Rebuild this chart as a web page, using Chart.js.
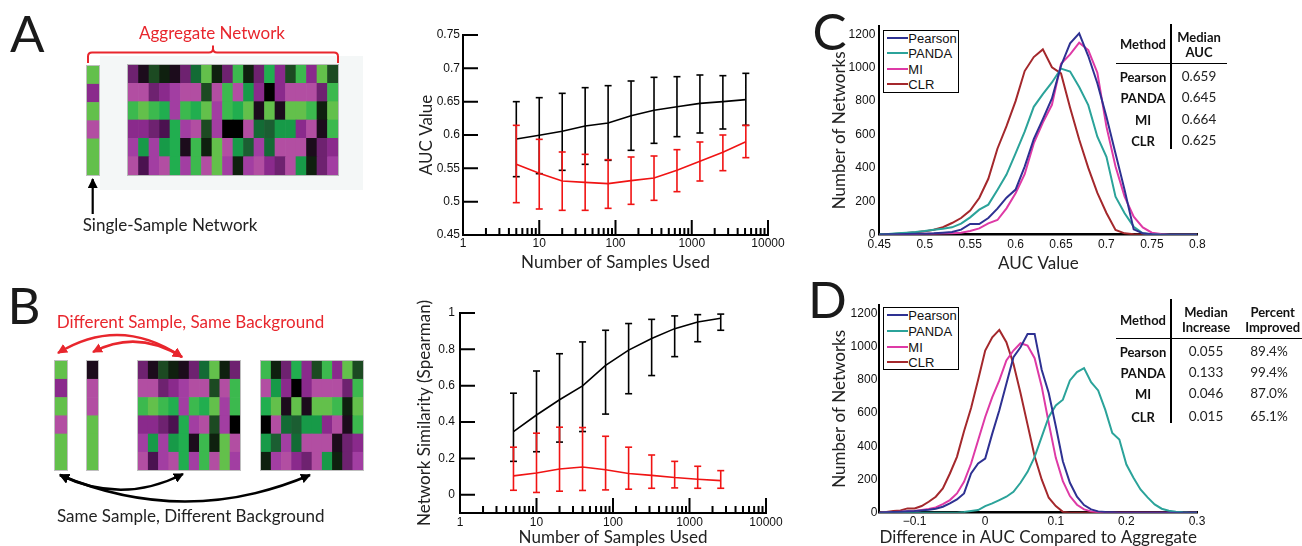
<!DOCTYPE html>
<html>
<head>
<meta charset="utf-8">
<title>Single-sample networks</title>
<script src="https://cdn.jsdelivr.net/npm/chart.js@4.4.1/dist/chart.umd.min.js"></script>
<style>
  html, body { margin: 0; padding: 0; background: #fff; }
  #page { position: relative; width: 1302px; height: 546px; overflow: hidden; font-family: Lato, sans-serif; color: #1e1e1e; }
  .box { position: absolute; }
  .box canvas { display: block; }
  .t { position: absolute; white-space: nowrap; line-height: 1; }
  .c { transform: translate(-50%, -50%); }
  .l { transform: translate(0, -50%); }
  .cell { outline: 1px solid rgba(0, 0, 0, 0.25); }
  .rule { position: absolute; background: #000; }
  .letter { font-size: 51px; color: #1a1a1a; }
  .red { color: #e8262d; font-size: 17px; }
  .note { font-size: 17px; color: #222; }
  .tb { font-weight: 700; font-size: 13px; color: #111; }
  .tv { font-size: 13.5px; color: #222; }
  .lg { font-family: 'Liberation Sans', Arial, sans-serif; font-size: 13px; color: #111; }
</style>
</head>
<body>
<div id="page">
  <!-- panel A illustration -->
  <div class="box" style="left:100px;top:56px;width:263px;height:134px;background:#f4f7f7"></div>
  <div class="box cell" style="left:87.3px;top:65.7px;width:11.7px;height:109.3px"><canvas id="hmSingleA"></canvas></div>
  <div class="box cell" style="left:128.3px;top:65.3px;width:210px;height:110px"><canvas id="hmAggregate"></canvas></div>

  <!-- panel B illustration -->
  <div class="box cell" style="left:55px;top:360.5px;width:11.7px;height:109.5px"><canvas id="hmSingleB1"></canvas></div>
  <div class="box cell" style="left:86.7px;top:360.5px;width:11.3px;height:109.5px"><canvas id="hmSingleB2"></canvas></div>
  <div class="box cell" style="left:137.7px;top:360.5px;width:102.3px;height:109.5px"><canvas id="hmHalf1"></canvas></div>
  <div class="box cell" style="left:260.7px;top:360.5px;width:102px;height:109.5px"><canvas id="hmHalf2"></canvas></div>

  <svg class="box" style="left:0;top:0" width="400" height="546" viewBox="0 0 400 546">
    <defs>
      <marker id="headRed" viewBox="0 0 10 10" refX="9" refY="5" markerWidth="10" markerHeight="10" markerUnits="userSpaceOnUse" orient="auto-start-reverse">
        <path d="M0,0 L10,5 L0,10 z" fill="#e8262d"/>
      </marker>
      <marker id="headBlack" viewBox="0 0 10 10" refX="9" refY="5" markerWidth="10" markerHeight="10" markerUnits="userSpaceOnUse" orient="auto-start-reverse">
        <path d="M0,0 L10,5 L0,10 z" fill="#000"/>
      </marker>
    </defs>
    <path d="M88,63 L88,56.5 Q88,52.5 92,52.5 L209,52.5 Q213,52.5 213,48.5 L213,45.5 M213,48.5 Q213,52.5 217,52.5 L334,52.5 Q338,52.5 338,56.5 L338,63" stroke="#e8262d" stroke-width="2" fill="none"/>
    <path d="M92.7,214 L92.7,179" stroke="#000" stroke-width="2.2" fill="none" marker-end="url(#headBlack)"/>
    <path d="M58,353 Q120,315 182,357" stroke="#e8262d" stroke-width="2.5" fill="none" marker-start="url(#headRed)" marker-end="url(#headRed)"/>
    <path d="M93,352 Q137,329 182,357" stroke="#e8262d" stroke-width="2.5" fill="none" marker-start="url(#headRed)" marker-end="url(#headRed)"/>
    <path d="M60,475 Q122,505 183,474" stroke="#000" stroke-width="2.5" fill="none" marker-start="url(#headBlack)" marker-end="url(#headBlack)"/>
    <path d="M60,475 Q185,528 310,475" stroke="#000" stroke-width="2.5" fill="none" marker-start="url(#headBlack)" marker-end="url(#headBlack)"/>
  </svg>

  <div class="t letter l" style="left:10px;top:31.5px">A</div>
  <div class="t letter l" style="left:7.5px;top:303.5px">B</div>
  <div class="t letter l" style="left:812.5px;top:30px">C</div>
  <div class="t letter l" style="left:808px;top:297.5px">D</div>

  <div class="t red c" style="left:212px;top:32px">Aggregate Network</div>
  <div class="t note l" style="left:82.7px;top:223.8px">Single-Sample Network</div>
  <div class="t red l" style="left:56.7px;top:320.5px">Different Sample, Same Background</div>
  <div class="t note l" style="left:57px;top:515px">Same Sample, Different Background</div>

  <!-- charts -->
  <div class="box" style="left:395px;top:22px;width:395px;height:253px"><canvas id="aucChart"></canvas></div>
  <div class="box" style="left:393px;top:300px;width:397px;height:246px"><canvas id="simChart"></canvas></div>
  <div class="box" style="left:805px;top:15px;width:410px;height:260px"><canvas id="aucDistChart"></canvas></div>
  <div class="box" style="left:805px;top:295px;width:410px;height:251px"><canvas id="diffDistChart"></canvas></div>
</div>

<script>
  // ---- heatmap cells (palette index per cell, top row first) ----
  const cellPalette = [
    "#000000", "#1c0c1c", "#6e2270", "#8a2a8c", "#a23ea2", "#b24ea2", "#0f200f",
    "#1c4a22", "#136b35", "#179a48", "#21ae4f", "#3cb94e", "#63c04b", "#4b1250", "#1b5e32"
  ];
  const heatAggregate = [
    [2, 1, 7, 6, 1, 2, 8, 12, 6, 2, 11, 6, 2, 10, 3, 7, 11, 3, 12, 7],
    [5, 5, 2, 3, 4, 5, 5, 7, 5, 11, 5, 9, 3, 0, 3, 5, 5, 5, 2, 11],
    [11, 12, 11, 10, 4, 11, 10, 12, 4, 11, 10, 12, 1, 12, 1, 12, 12, 11, 6, 12],
    [3, 3, 2, 13, 10, 4, 5, 7, 4, 0, 0, 5, 8, 14, 9, 9, 3, 5, 1, 11],
    [4, 9, 4, 9, 10, 1, 11, 6, 12, 5, 9, 14, 4, 8, 5, 5, 5, 1, 2, 3],
    [5, 13, 4, 5, 10, 4, 11, 5, 12, 4, 6, 4, 5, 3, 2, 5, 9, 6, 2, 4]
  ];
  const heatSingle = [12, 3, 12, 5, 12, 12];
  const heatOtherSingle = [1, 5, 5, 12, 12, 12];

  // ---- panel A: AUC vs number of samples ----
  const samplesA = [5, 10, 20, 40, 80, 160, 320, 640, 1280, 2560, 5120];
  const aucAggMean = [0.594, 0.5995, 0.6055, 0.6135, 0.618, 0.629, 0.637, 0.6425, 0.6475, 0.65, 0.653];
  const aucAggHigh = [0.65, 0.656, 0.6625, 0.671, 0.674, 0.681, 0.6865, 0.6875, 0.69, 0.689, 0.6925];
  const aucAggLow = [0.5375, 0.542, 0.547, 0.556, 0.562, 0.577, 0.5875, 0.5975, 0.603, 0.609, 0.6145];
  const aucSingleMean = [0.556, 0.5425, 0.531, 0.529, 0.527, 0.5315, 0.5355, 0.547, 0.5605, 0.574, 0.59];
  const aucSingleHigh = [0.6145, 0.5935, 0.5745, 0.571, 0.563, 0.567, 0.5685, 0.578, 0.5895, 0.6, 0.6145];
  const aucSingleLow = [0.4985, 0.489, 0.487, 0.487, 0.49, 0.496, 0.502, 0.515, 0.531, 0.5465, 0.566];
  const aucTicks = [0.45, 0.5, 0.55, 0.6, 0.65, 0.7, 0.75];

  // ---- panel B: similarity vs number of samples ----
  const samplesB = [5, 10, 20, 40, 80, 160, 320, 640, 1280, 2560];
  const simSameMean = [0.348, 0.439, 0.523, 0.599, 0.712, 0.796, 0.86, 0.914, 0.951, 0.971];
  const simSameHigh = [0.559, 0.681, 0.776, 0.841, 0.905, 0.942, 0.965, 0.984, 0.991, 0.994];
  const simSameLow = [0.184, 0.237, 0.29, 0.348, 0.444, 0.556, 0.656, 0.76, 0.842, 0.905];
  const simDiffMean = [0.104, 0.12, 0.142, 0.153, 0.138, 0.117, 0.107, 0.095, 0.086, 0.078];
  const simDiffHigh = [0.262, 0.339, 0.372, 0.37, 0.322, 0.262, 0.219, 0.184, 0.157, 0.133];
  const simDiffLow = [0.025, 0.013, 0.02, 0.024, 0.027, 0.031, 0.036, 0.038, 0.036, 0.036];
  const simTicks = [0, 0.2, 0.4, 0.6, 0.8, 1];

  const sampleMajorTicks = [1, 10, 100, 1000, 10000];

  // ---- panel C: distribution of AUC ----
  const methods = ["Pearson", "PANDA", "MI", "CLR"];
  const methodColors = ["#2e3192", "#2ba39a", "#de3aa6", "#a4282c"];
  const aucBins = [0.45, 0.46, 0.47, 0.48, 0.49, 0.5, 0.51, 0.52, 0.53, 0.54, 0.55, 0.56, 0.57, 0.58,
    0.59, 0.6, 0.61, 0.62, 0.63, 0.64, 0.65, 0.66, 0.67, 0.68, 0.69, 0.7, 0.71, 0.72, 0.73, 0.74,
    0.75, 0.76, 0.77, 0.78, 0.79, 0.8];
  const aucPearson = [0, 2, 3, 4, 5, 6, 8, 12, 16, 30, 64, 64, 100, 156, 222, 270, 408, 572, 692, 816,
    1012, 1146, 1206, 1070, 907, 707, 487, 268, 32, 8, 2, 0, 0, 0, 0, 0];
  const aucPanda = [2, 4, 8, 12, 16, 22, 30, 36, 44, 66, 104, 150, 180, 268, 360, 487, 617, 766, 842, 912,
    995, 977, 885, 776, 587, 467, 228, 128, 48, 8, 2, 0, 0, 0, 0, 0];
  const aucMI = [0, 1, 2, 3, 4, 5, 6, 7, 8, 12, 22, 38, 68, 88, 158, 248, 362, 547, 672, 778,
    1024, 1080, 1150, 1106, 970, 647, 408, 228, 108, 44, 12, 4, 0, 0, 0, 0];
  const aucCLR = [0, 2, 6, 10, 14, 20, 30, 45, 70, 100, 145, 220, 335, 515, 650, 800, 980, 1064, 1110, 1003,
    966, 760, 570, 400, 250, 130, 28, 8, 2, 0, 0, 0, 0, 0, 0, 0];
  const aucBinTicks = [0.45, 0.5, 0.55, 0.6, 0.65, 0.7, 0.75, 0.8];
  const medianAUC = ["0.659", "0.645", "0.664", "0.625"];

  // ---- panel D: difference in AUC vs aggregate ----
  const diffBins = [-0.15, -0.14, -0.13, -0.12, -0.11, -0.1, -0.09, -0.08, -0.07, -0.06, -0.05, -0.04,
    -0.03, -0.02, -0.01, 0, 0.01, 0.02, 0.03, 0.04, 0.05, 0.06, 0.07, 0.08, 0.09, 0.1, 0.11, 0.12,
    0.13, 0.14, 0.15, 0.16, 0.17, 0.18, 0.19, 0.2, 0.21, 0.22, 0.23, 0.24, 0.25, 0.26, 0.27, 0.28, 0.29, 0.3];
  const diffPearson = [0, 2, 4, 6, 8, 10, 14, 18, 24, 36, 56, 80, 116, 236, 296, 326, 476, 616, 776, 936,
    996, 1076, 1076, 860, 720, 520, 310, 180, 96, 46, 20, 8, 4, 2, 0, 0, 0, 0, 0, 0, 0, 0, 0, 0, 0, 0];
  const diffPanda = [0, 0, 0, 0, 0, 0, 0, 0, 0, 0, 0, 0, 4, 10, 16, 40, 56, 76, 96, 126, 180, 246, 336,
    456, 576, 646, 680, 796, 846, 870, 786, 736, 620, 480, 440, 290, 210, 140, 92, 50, 24, 12, 6, 2, 0, 0];
  const diffMI = [0, 2, 4, 6, 8, 10, 16, 22, 32, 52, 76, 116, 186, 296, 436, 576, 696, 796, 916, 976,
    1020, 1006, 930, 760, 540, 330, 190, 100, 48, 20, 8, 3, 0, 0, 0, 0, 0, 0, 0, 0, 0, 0, 0, 0, 0, 0];
  const diffCLR = [0, 4, 10, 14, 26, 26, 40, 66, 96, 146, 236, 336, 490, 630, 800, 976, 1056, 1100, 1026, 896,
    720, 530, 340, 200, 90, 40, 5, 0, 0, 0, 0, 0, 0, 0, 0, 0, 0, 0, 0, 0, 0, 0, 0, 0, 0, 0];
  const diffTicks = [-0.1, 0, 0.1, 0.2, 0.3];
  const medianIncrease = ["0.055", "0.133", "0.046", "0.015"];
  const percentImproved = ["89.4%", "99.4%", "87.0%", "65.1%"];

  const countTicks = [0, 200, 400, 600, 800, 1000, 1200];

  Chart.defaults.font.family = "'Liberation Sans', Arial, sans-serif";
  Chart.defaults.font.size = 12;
  Chart.defaults.color = "#111";

  const RED = "#f01414";
  const titleFont = { family: "Lato", size: 17, lineHeight: 1 };

  // tick marks drawn inside the plot (MATLAB style)
  const inwardTicks = {
    id: "inwardTicks",
    afterDatasetsDraw(chart, args, opts) {
      const { ctx, chartArea: a, scales: { x, y } } = chart;
      ctx.save();
      ctx.strokeStyle = "#000";
      ctx.lineWidth = 2;
      ctx.beginPath();
      x.ticks.forEach(function (t) {
        const px = x.getPixelForValue(t.value);
        const len = opts.major.includes(t.value) ? 15 : 7;
        ctx.moveTo(px, a.bottom);
        ctx.lineTo(px, a.bottom - len);
      });
      y.ticks.forEach(function (t) {
        const py = y.getPixelForValue(t.value);
        ctx.moveTo(a.left, py);
        ctx.lineTo(a.left + 15, py);
      });
      ctx.stroke();
      ctx.restore();
    }
  };

  function drawHeatmap(id, rows) {
    const datasets = rows.slice().reverse().map(function (row) {
      return {
        data: row.map(function () { return 1; }),
        backgroundColor: row.map(function (k) { return cellPalette[k]; }),
        borderWidth: 0,
        barPercentage: 1,
        categoryPercentage: 1
      };
    });
    new Chart(document.getElementById(id), {
      type: "bar",
      data: { labels: rows[0].map(function (_, i) { return "c" + i; }), datasets: datasets },
      options: {
        responsive: true, maintainAspectRatio: false, animation: false, events: [],
        layout: { padding: 0 },
        plugins: { legend: { display: false }, tooltip: { enabled: false } },
        scales: {
          x: { display: false, stacked: true },
          y: { display: false, stacked: true, min: 0, max: rows.length }
        }
      }
    });
  }

  drawHeatmap("hmAggregate", heatAggregate);
  drawHeatmap("hmSingleA", heatSingle.map(function (k) { return [k]; }));
  drawHeatmap("hmSingleB1", heatSingle.map(function (k) { return [k]; }));
  drawHeatmap("hmSingleB2", heatOtherSingle.map(function (k) { return [k]; }));
  drawHeatmap("hmHalf1", heatAggregate.map(function (r) { return r.slice(0, 10); }));
  drawHeatmap("hmHalf2", heatAggregate.map(function (r) { return r.slice(10, 20); }));

  function points(xs, ys) {
    return xs.map(function (x, i) { return { x: x, y: ys[i] }; });
  }
  function errorBars(xs, lo, hi) {
    const pts = [];
    xs.forEach(function (x, i) {
      pts.push({ x: x, y: lo[i] }, { x: x, y: hi[i] }, { x: x, y: null });
    });
    return pts;
  }

  // log axis ticks 1..9, 10..90, ...
  const logTicks = [];
  sampleMajorTicks.forEach(function (d, i) {
    if (i === sampleMajorTicks.length - 1) { logTicks.push(d); return; }
    for (let k = 1; k <= 9; k++) logTicks.push(d * k);
  });

  function sampleChart(id, o) {
    function ds(data, color, isBar) {
      return {
        data: data, showLine: true, borderColor: color, borderWidth: 1.6, spanGaps: false,
        pointRadius: isBar ? 3.5 : 0, pointStyle: "line",
        pointBorderColor: color, pointBorderWidth: 1.6
      };
    }
    new Chart(document.getElementById(id), {
      type: "scatter",
      data: {
        datasets: [
          ds(errorBars(o.xs, o.redLow, o.redHigh), RED, true),
          ds(points(o.xs, o.redMean), RED, false),
          ds(errorBars(o.xs, o.blackLow, o.blackHigh), "#000", true),
          ds(points(o.xs, o.blackMean), "#000", false)
        ]
      },
      plugins: [inwardTicks],
      options: {
        responsive: true, maintainAspectRatio: false, animation: false, events: [],
        layout: { padding: { top: o.padTop, right: o.padRight, left: 0, bottom: 0 } },
        plugins: {
          legend: { display: false }, tooltip: { enabled: false },
          inwardTicks: { major: sampleMajorTicks }
        },
        scales: {
          x: {
            type: "logarithmic", min: 1, max: 10000,
            grid: { display: true, drawOnChartArea: false, drawTicks: false },
            border: { display: true, color: "#000", width: 2 },
            afterBuildTicks: function (s) { s.ticks = logTicks.map(function (v) { return { value: v }; }); },
            afterFit: function (s) { s.height = o.xH; s.paddingLeft = 0; s.paddingRight = 0; },
            ticks: {
              autoSkip: false, maxRotation: 0, padding: o.xPad,
              callback: function (v) { return sampleMajorTicks.includes(v) ? String(v) : ""; }
            },
            title: { display: true, text: "Number of Samples Used", font: titleFont, color: "#222", padding: { top: 0, bottom: o.xTitlePad } }
          },
          y: {
            min: o.yMin, max: o.yMax,
            grid: { display: true, drawOnChartArea: false, drawTicks: false },
            border: { display: true, color: "#000", width: 2 },
            afterBuildTicks: function (s) { s.ticks = o.yTicks.map(function (v) { return { value: v }; }); },
            afterFit: function (s) { s.width = o.yW; s.paddingTop = 0; s.paddingBottom = 0; },
            ticks: { padding: o.yPad, callback: function (v) { return String(v); } },
            title: { display: true, text: o.yTitle, font: titleFont, color: "#222", padding: { top: o.yTitlePad, bottom: 0 } }
          }
        }
      }
    });
  }

  sampleChart("aucChart", {
    xs: samplesA,
    blackMean: aucAggMean, blackLow: aucAggLow, blackHigh: aucAggHigh,
    redMean: aucSingleMean, redLow: aucSingleLow, redHigh: aucSingleHigh,
    yMin: 0.45, yMax: 0.75, yTicks: aucTicks, yTitle: "AUC Value",
    padTop: 13, padRight: 22, yW: 68, xH: 40, xPad: 1, yPad: 3, xTitlePad: 4, yTitlePad: 23
  });

  sampleChart("simChart", {
    xs: samplesB,
    blackMean: simSameMean, blackLow: simSameLow, blackHigh: simSameHigh,
    redMean: simDiffMean, redLow: simDiffLow, redHigh: simDiffHigh,
    yMin: -0.1, yMax: 1, yTicks: simTicks, yTitle: "Network Similarity (Spearman)",
    padTop: 13, padRight: 24, yW: 67, xH: 33, xPad: 2, yPad: 5, xTitlePad: 0, yTitlePad: 23
  });

  function fmtDiff(v) {
    return v < 0 ? "\u2212" + String(-v) : String(v);
  }

  function distChart(id, o) {
    new Chart(document.getElementById(id), {
      type: "scatter",
      data: {
        datasets: o.series.map(function (ys, i) {
          return {
            data: points(o.xs, ys), showLine: true, borderColor: methodColors[i],
            borderWidth: 2, pointRadius: 0, tension: 0
          };
        })
      },
      options: {
        responsive: true, maintainAspectRatio: false, animation: false, events: [],
        layout: { padding: { top: o.padTop, right: o.padRight, left: 0, bottom: 0 } },
        plugins: { legend: { display: false }, tooltip: { enabled: false } },
        scales: {
          x: {
            type: "linear", min: o.xMin, max: o.xMax,
            grid: { display: true, drawOnChartArea: false, drawTicks: false },
            border: { display: true, color: "#000", width: 2.5 },
            afterBuildTicks: function (s) { s.ticks = o.xTicks.map(function (v) { return { value: v }; }); },
            afterFit: function (s) { s.height = o.xH; s.paddingLeft = 0; s.paddingRight = 0; },
            ticks: { autoSkip: false, maxRotation: 0, padding: o.xPad, callback: o.fmt },
            title: { display: true, text: o.xTitle, font: titleFont, color: "#222", padding: { top: 0, bottom: o.xTitlePad } }
          },
          y: {
            type: "linear", min: 0, max: 1250,
            grid: { display: true, drawOnChartArea: false, drawTicks: false },
            border: { display: true, color: "#000", width: 2 },
            afterBuildTicks: function (s) { s.ticks = countTicks.map(function (v) { return { value: v }; }); },
            afterFit: function (s) { s.width = o.yW; s.paddingTop = 0; s.paddingBottom = 0; },
            ticks: { padding: o.yPad, callback: function (v) { return String(v); } },
            title: { display: true, text: "Number of Networks", font: titleFont, color: "#222", padding: { top: o.yTitlePad, bottom: 0 } }
          }
        }
      }
    });
  }

  distChart("aucDistChart", {
    xs: aucBins, series: [aucPearson, aucPanda, aucMI, aucCLR],
    xMin: 0.45, xMax: 0.8, xTicks: aucBinTicks, fmt: function (v) { return String(v); },
    xTitle: "AUC Value",
    padTop: 11, padRight: 17.7, yW: 74.3, xH: 40.3, xPad: 3, yPad: 4, xTitlePad: 3, yTitlePad: 26
  });

  distChart("diffDistChart", {
    xs: diffBins, series: [diffPearson, diffPanda, diffMI, diffCLR],
    xMin: -0.15, xMax: 0.3, xTicks: diffTicks, fmt: fmtDiff,
    xTitle: "Difference in AUC Compared to Aggregate",
    padTop: 10, padRight: 18, yW: 74.3, xH: 33.3, xPad: 2, yPad: 2, xTitlePad: 0, yTitlePad: 26
  });

  // ---- legends and tables (HTML text) ----
  const page = document.getElementById("page");
  function add(cls, style, text) {
    const el = document.createElement("div");
    el.className = cls;
    el.setAttribute("style", style);
    if (text !== undefined) el.textContent = text;
    page.appendChild(el);
    return el;
  }

  function legend(top, rowYs) {
    add("box", "left:882.7px;top:" + top + "px;width:76.7px;height:62.7px;border:1.5px solid #000;box-sizing:border-box;background:#fff");
    methods.forEach(function (m, i) {
      add("rule", "left:887px;top:" + (rowYs[i] - 1) + "px;width:20.5px;height:2px;background:" + methodColors[i]);
      add("t lg l", "left:908.3px;top:" + rowYs[i] + "px", m);
    });
  }
  legend(30, [38.3, 53.3, 69, 84.3]);
  legend(307.3, [315, 330.7, 346.7, 362.3]);

  // table C
  add("rule", "left:1170.3px;top:24px;width:1.5px;height:125px");
  add("rule", "left:1115.7px;top:62.6px;width:111px;height:1.5px");
  add("t tb c", "left:1143px;top:44px", "Method");
  add("t tb c", "left:1199px;top:36.7px", "Median");
  add("t tb c", "left:1199px;top:52px", "AUC");
  [76.7, 98, 119.5, 141].forEach(function (y, i) {
    add("t tb c", "left:1143px;top:" + y + "px", methods[i]);
    add("t tv c", "left:1199px;top:" + y + "px", medianAUC[i]);
  });

  // table D
  add("rule", "left:1170.3px;top:299.3px;width:1.5px;height:124px");
  add("rule", "left:1115.7px;top:337.6px;width:186px;height:1.5px");
  add("t tb c", "left:1143px;top:320px", "Method");
  add("t tb c", "left:1206px;top:311.7px", "Median");
  add("t tb c", "left:1206px;top:327.3px", "Increase");
  add("t tb c", "left:1272.7px;top:311.7px", "Percent");
  add("t tb c", "left:1272.7px;top:327.3px", "Improved");
  [351.7, 373.3, 394.3, 416.5].forEach(function (y, i) {
    add("t tb c", "left:1143px;top:" + y + "px", methods[i]);
    add("t tv c", "left:1206px;top:" + y + "px", medianIncrease[i]);
    add("t tv c", "left:1269px;top:" + y + "px", percentImproved[i]);
  });
</script>
</body>
</html>
